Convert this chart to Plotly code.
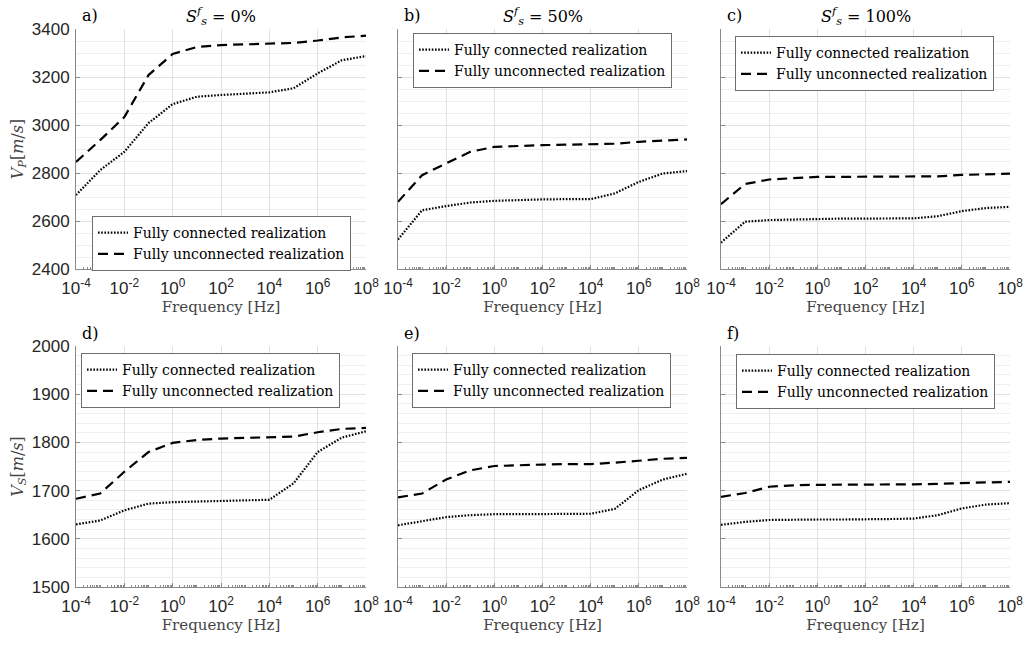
import plotly.graph_objects as go

# Frequency grid (Hz), one point per decade
freq = [1e-4, 1e-3, 1e-2, 1e-1, 1e0, 1e1, 1e2, 1e3, 1e4, 1e5, 1e6, 1e7, 1e8]

# P-wave velocity (m/s) for three saturation levels
vp_conn_0 = [2708, 2812, 2888, 3008, 3087, 3118, 3125, 3130, 3136, 3153, 3215, 3270, 3287]
vp_unconn_0 = [2846, 2937, 3033, 3208, 3296, 3325, 3333, 3337, 3340, 3342, 3352, 3365, 3372]
vp_conn_50 = [2523, 2645, 2662, 2677, 2684, 2688, 2690, 2691, 2691, 2715, 2763, 2798, 2808]
vp_unconn_50 = [2680, 2791, 2840, 2888, 2909, 2914, 2916, 2918, 2919, 2922, 2930, 2936, 2940]
vp_conn_100 = [2510, 2597, 2604, 2607, 2609, 2610, 2610, 2611, 2611, 2620, 2641, 2654, 2659]
vp_unconn_100 = [2670, 2754, 2773, 2780, 2784, 2784, 2784, 2784, 2784, 2786, 2792, 2795, 2797]

# S-wave velocity (m/s)
vs_conn_0 = [1630, 1638, 1659, 1673, 1676, 1677, 1678, 1679, 1681, 1715, 1780, 1810, 1823]
vs_unconn_0 = [1683, 1694, 1739, 1780, 1799, 1805, 1808, 1809, 1810, 1812, 1821, 1828, 1830]
vs_conn_50 = [1628, 1636, 1645, 1649, 1651, 1651, 1651, 1652, 1652, 1662, 1701, 1723, 1735]
vs_unconn_50 = [1686, 1694, 1723, 1742, 1751, 1753, 1754, 1755, 1755, 1758, 1762, 1766, 1768]
vs_conn_100 = [1629, 1635, 1639, 1640, 1640, 1640, 1640, 1641, 1642, 1649, 1663, 1671, 1674]
vs_unconn_100 = [1687, 1695, 1708, 1711, 1712, 1712, 1712, 1713, 1713, 1714, 1716, 1717, 1718]

saturation_labels = ["0%", "50%", "100%"]
panel_letters = ["a)", "b)", "c)", "d)", "e)", "f)"]
series_names = ["Fully connected realization", "Fully unconnected realization"]

xtick_vals = [1e-4, 1e-2, 1e0, 1e2, 1e4, 1e6, 1e8]
xtick_text = ["10<sup>-4</sup>", "10<sup>-2</sup>", "10<sup>0</sup>", "10<sup>2</sup>",
              "10<sup>4</sup>", "10<sup>6</sup>", "10<sup>8</sup>"]
vp_ticks = [2400, 2600, 2800, 3000, 3200, 3400]
vs_ticks = [1500, 1600, 1700, 1800, 1900, 2000]

W, H = 1029, 646
SERIF = "DejaVu Serif"
SANS = "Arial"
AXIS_GREY = "#8a8a8a"
GRID = "#e1e1e1"
MINOR_GRID = "#efefef"
TEXT = "#262626"

col_px = [(76, 366), (398, 687), (721, 1010)]
row_px = [(29, 269), (346, 587)]

minor_x = [m * 10.0 ** e for e in range(-4, 8) for m in range(2, 10)] + [10.0 ** e for e in range(-3, 8, 2)]

data = [
    [(vp_conn_0, vp_unconn_0), (vp_conn_50, vp_unconn_50), (vp_conn_100, vp_unconn_100)],
    [(vs_conn_0, vs_unconn_0), (vs_conn_50, vs_unconn_50), (vs_conn_100, vs_unconn_100)],
]

# legend boxes (left, top) in pixels
legend_pos = [
    [(92, 216), (413, 33), (735, 36)],
    [(81, 353), (412, 353), (736, 354)],
]

fig = go.Figure()
layout = dict(
    width=W, height=H,
    margin=dict(l=0, r=0, t=0, b=0),
    paper_bgcolor="white", plot_bgcolor="white",
    font=dict(family=SANS, color=TEXT, size=16),
    annotations=[],
)

for r in range(2):
    for c in range(3):
        idx = r * 3 + c
        k = idx + 1
        xa = "xaxis" if k == 1 else f"xaxis{k}"
        ya = "yaxis" if k == 1 else f"yaxis{k}"
        xref = "x" if k == 1 else f"x{k}"
        yref = "y" if k == 1 else f"y{k}"
        lg = "legend" if k == 1 else f"legend{k}"
        conn, unconn = data[r][c]

        fig.add_trace(go.Scatter(
            x=freq, y=conn, mode="lines", name=series_names[0],
            line=dict(color="black", width=2.2, dash="1.6px,1.6px"),
            xaxis=xref, yaxis=yref, legend=lg,
        ))
        fig.add_trace(go.Scatter(
            x=freq, y=unconn, mode="lines", name=series_names[1],
            line=dict(color="black", width=2.2, dash="10px,6px"),
            xaxis=xref, yaxis=yref, legend=lg,
        ))

        x0, x1 = col_px[c]
        y0, y1 = row_px[r]
        layout[xa] = dict(
            type="log", range=[-4, 8],
            domain=[x0 / W, x1 / W], anchor=yref,
            tickmode="array", tickvals=xtick_vals, ticktext=xtick_text,
            ticks="inside", ticklen=4, tickcolor=AXIS_GREY,
            showline=True, linecolor=AXIS_GREY, linewidth=1,
            showgrid=True, gridcolor=GRID, gridwidth=1,
            zeroline=False, automargin=False, ticklabelstandoff=4,
            tickfont=dict(family=SANS, size=17, color=TEXT),
            minor=dict(tickmode="array", tickvals=minor_x, ticks="inside",
                       ticklen=2, tickcolor=AXIS_GREY, showgrid=False),
            title=dict(text="Frequency [Hz]", standoff=2,
                       font=dict(family=SERIF, size=15, color="#444444")),
        )
        yt = vp_ticks if r == 0 else vs_ticks
        layout[ya] = dict(
            range=[yt[0], yt[-1]],
            domain=[1 - y1 / H, 1 - y0 / H], anchor=xref,
            tickmode="array", tickvals=yt,
            showticklabels=(c == 0),
            ticks="inside", ticklen=4, tickcolor=AXIS_GREY,
            showline=True, linecolor=AXIS_GREY, linewidth=1,
            showgrid=True, gridcolor=GRID, gridwidth=1,
            zeroline=False, automargin=False, ticklabelstandoff=2,
            tickfont=dict(family=SANS, size=17, color=TEXT),
            minor=dict(dtick=(50 if r == 0 else 20), showgrid=True,
                       gridcolor=MINOR_GRID, gridwidth=1, ticks=""),
        )
        if c == 0:
            sym = "P" if r == 0 else "S"
            layout[ya]["title"] = dict(
                text=f"<i>V</i><sub><i>{sym}</i></sub>[<i>m</i>/<i>s</i>]",
                standoff=4, font=dict(family=SERIF, size=16, color="#444444"))

        lx, ly = legend_pos[r][c]
        layout[lg] = dict(
            x=lx / W, y=1 - ly / H, xanchor="left", yanchor="top",
            xref="paper", yref="paper",
            bgcolor="white", bordercolor="#6e6e6e", borderwidth=1,
            font=dict(family=SERIF, size=14, color="black"),
            tracegroupgap=0, itemwidth=30,
        )

        # panel letter
        layout["annotations"].append(dict(
            text=panel_letters[idx], x=(x0 + 4) / W, y=1 - (y0 - 13) / H,
            xref="paper", yref="paper", xanchor="left", yanchor="middle",
            showarrow=False, font=dict(family=SERIF, size=16, color="black"),
        ))
        # saturation title above the top row
        if r == 0:
            layout["annotations"].append(dict(
                text=f"<i>S</i><sup><i>f</i></sup><sub><i>s</i></sub> = {saturation_labels[c]}",
                x=(x0 + x1) / 2 / W, y=1 - (y0 - 12) / H,
                xref="paper", yref="paper", xanchor="center", yanchor="middle",
                showarrow=False, font=dict(family=SERIF, size=16, color="black"),
            ))

fig.update_layout(**layout)
fig.write_html("out.html")
